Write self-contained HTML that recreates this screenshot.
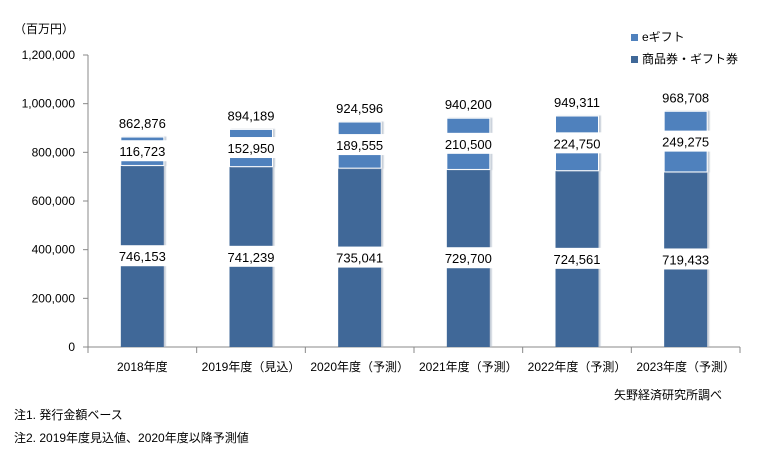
<!DOCTYPE html>
<html><head><meta charset="utf-8"><style>
body{margin:0;background:#fff;}
svg{font-family:"Liberation Sans","Noto Sans CJK JP",sans-serif;}
</style></head><body>
<svg width="772" height="452" viewBox="0 0 772 452">
<defs><filter id="sh" x="-10%" y="-10%" width="130%" height="130%"><feDropShadow dx="2" dy="0" stdDeviation="0.6" flood-color="#b8c2cf" flood-opacity="0.8"/></filter></defs>
<text x="14" y="33" font-size="12" fill="#000">（百万円）</text>
<g id="axes"></g>
<g id="bars"></g>
<g id="labels"></g>
<g>
<rect x="631" y="34" width="7" height="7" fill="#4f81bd"/>
<text x="642" y="41" font-size="12">eギフト</text>
<rect x="631" y="56" width="7" height="7" fill="#3f6898"/>
<text x="642" y="63" font-size="12">商品券・ギフト券</text>
</g>
<text x="722" y="399" font-size="12" text-anchor="end">矢野経済研究所調べ</text>
<text x="14" y="419" font-size="12">注1. 発行金額ベース</text>
<text x="14" y="442" font-size="12">注2. 2019年度見込値、2020年度以降予測値</text>
</svg>
<script>
const categories=["2018年度","2019年度（見込）","2020年度（予測）","2021年度（予測）","2022年度（予測）","2023年度（予測）"];
const giftCards=[746153,741239,735041,729700,724561,719433];
const eGift=[116723,152950,189555,210500,224750,249275];
const totals=[862876,894189,924596,940200,949311,968708];
const yTicks=[0,200000,400000,600000,800000,1000000,1200000];
const NS="http://www.w3.org/2000/svg";
const x0=88,x1=740,y0=347,yTop=55,yMax=1200000;
const bw=(x1-x0)/categories.length, barW=43;
const y=v=>y0-(v/yMax)*(y0-yTop);
const xc=i=>x0+bw*(i+0.5);
function mk(tag,attrs,parent,txt){const e=document.createElementNS(NS,tag);for(const k in attrs)e.setAttribute(k,attrs[k]);if(txt!==undefined)e.textContent=txt;parent.appendChild(e);return e;}
const fmt=v=>v.toLocaleString('en-US');
const axes=document.getElementById('axes'),bars=document.getElementById('bars'),labels=document.getElementById('labels');
let a=mk('line',{x1:x0,y1:yTop,x2:x0,y2:y0,stroke:'#888'},axes);


a=mk('line',{x1:x0,y1:y0,x2:x1,y2:y0,stroke:'#888'},axes);


yTicks.forEach(t=>{
 const l=mk('line',{x1:x0-5,y1:y(t),x2:x0,y2:y(t),stroke:'#888'},axes);
 
 
 const tx=mk('text',{x:75,y:y(t)+4,'font-size':12,'text-anchor':'end'},axes,fmt(t));
 
 
});
for(let i=0;i<=categories.length;i++){
 const l=mk('line',{x1:x0+bw*i,y1:y0,x2:x0+bw*i,y2:y0+6,stroke:'#888'},axes);
 
 
}
categories.forEach((c,i)=>{
 const cx=xc(i);
 const t=mk('text',{x:cx,y:371,'font-size':12,'text-anchor':'middle'},axes,c);
 
 
 const yb=y(giftCards[i]), yt=y(giftCards[i]+eGift[i]);
 const b=mk('rect',{x:cx-barW/2,y:yb,width:barW,height:y0-yb,fill:'#3f6898',filter:'url(#sh)'},bars);
 
 
 const e=mk('rect',{x:cx-barW/2,y:yt,width:barW,height:yb-yt,fill:'#4f81bd',stroke:'#fff','stroke-width':1,filter:'url(#sh)'},bars);
 
 
 const lb=(yb+y0)/2, le=(yb+yt)/2, lt=y(totals[i])-14;
 [[lb,fmt(giftCards[i]),'label-giftcard'],[le,fmt(eGift[i]),'label-egift']].forEach(([ly,s,n])=>{
  const r=mk('rect',{x:cx-bw/2+8,y:ly-11,width:bw-16,height:21,fill:'#fff'},labels);
  
  
  const tt=mk('text',{x:cx,y:ly+5,'font-size':13,'text-anchor':'middle'},labels,s);
  
  
 });
 const tt=mk('text',{x:cx,y:lt+5,'font-size':13,'text-anchor':'middle'},labels,fmt(totals[i]));
 
 
});
</script>
</body></html>
